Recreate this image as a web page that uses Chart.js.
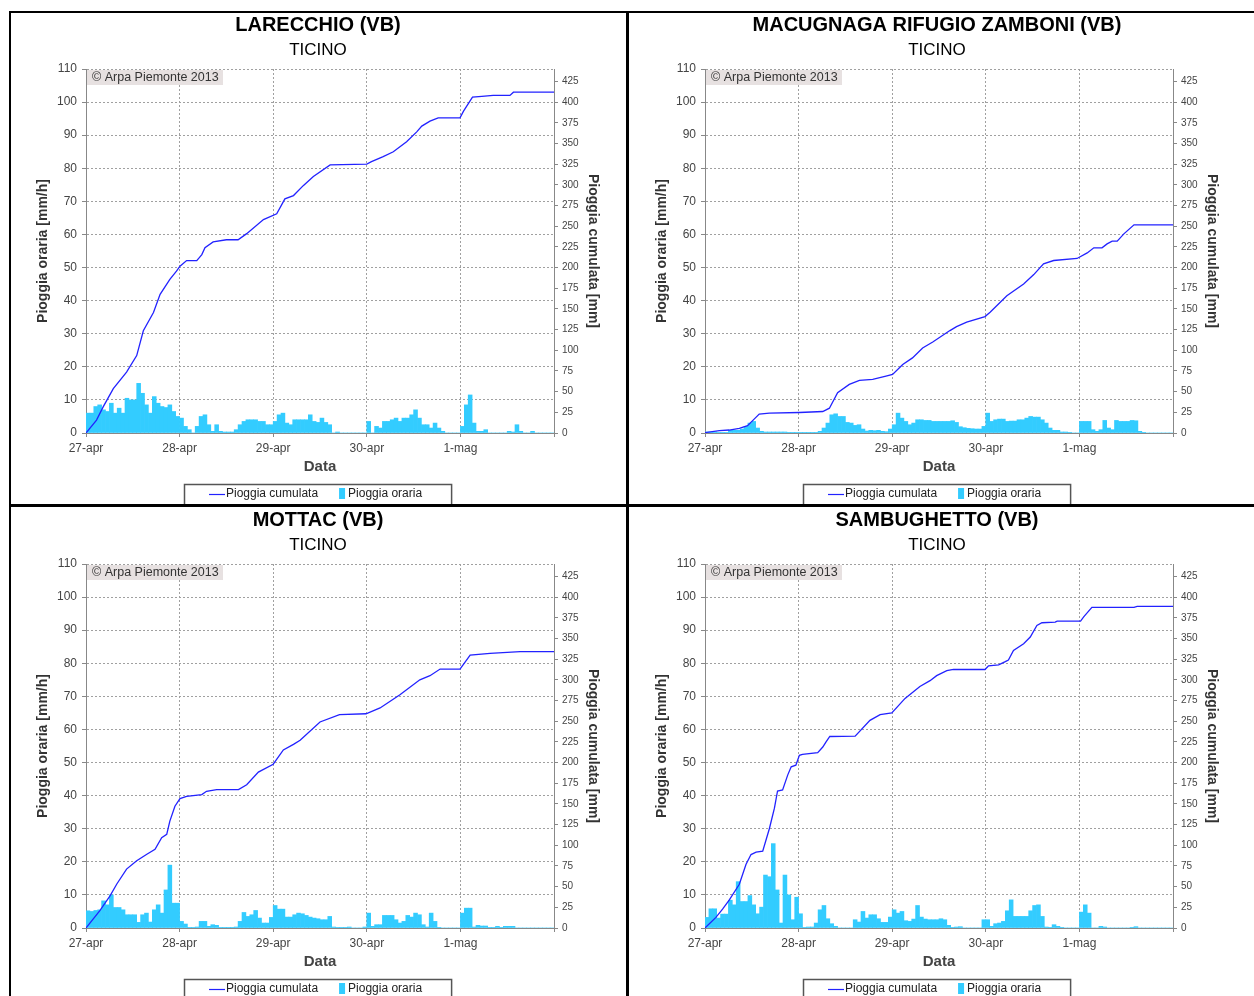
<!DOCTYPE html>
<html>
<head>
<meta charset="utf-8">
<title>Pioggia oraria e cumulata</title>
<script src="https://cdn.jsdelivr.net/npm/chart.js@4.4.0/dist/chart.umd.min.js"></script>
<style>
  html, body { margin: 0; padding: 0; background: #fff; }
  body { width: 1254px; height: 996px; position: relative; overflow: hidden; }
  .rule { position: absolute; background: #000; }
  canvas { position: absolute; }
</style>
</head>
<body>
<div class="rule" style="left:9px;top:11px;width:1245px;height:2px"></div>
<div class="rule" style="left:9px;top:504px;width:1245px;height:3px"></div>
<div class="rule" style="left:9px;top:11px;width:2px;height:985px"></div>
<div class="rule" style="left:626px;top:11px;width:3px;height:985px"></div>
<canvas id="c1" width="614" height="491" style="left:11px;top:13px;width:614px;height:491px"></canvas>
<canvas id="c2" width="614" height="491" style="left:630px;top:13px;width:614px;height:491px"></canvas>
<canvas id="c3" width="614" height="491" style="left:11px;top:508px;width:614px;height:491px"></canvas>
<canvas id="c4" width="614" height="491" style="left:630px;top:508px;width:614px;height:491px"></canvas>
<script>
// x axis: hours since 27-apr 00:00, one tick per day
const dayLabels = ['27-apr', '28-apr', '29-apr', '30-apr', '1-mag'];
const basin = 'TICINO';

// hourly rain [mm/h], 120 hours
const hourlyLarecchio = [
  6, 6, 8, 8.5, 7, 6.5, 9, 6, 7.5, 6,
  10.5, 10, 10, 15, 12, 8.5, 6, 11, 9, 8,
  7.7, 8.5, 6.5, 5, 4.5, 2, 1, 0, 2, 5,
  5.5, 2.5, 0.5, 2.5, 0.5, 0.3, 0.3, 0.3, 1, 2.5,
  3.5, 4, 4, 4, 3.5, 3.5, 2.5, 2.5, 3.5, 5.5,
  6, 3, 2.5, 4, 4, 4, 4, 5.5, 3.5, 3.2,
  4.5, 3.2, 2.5, 0, 0.3, 0, 0, 0, 0, 0,
  0, 0, 3.5, 0, 2, 1.5, 3.5, 3.5, 4, 4.5,
  3.5, 4.5, 4.5, 5.5, 7, 4.5, 2.5, 2.5, 1.5, 3,
  1.5, 0.5, 0, 0, 0, 0, 2, 8.5, 11.5, 3,
  0.5, 0.5, 1, 0, 0, 0, 0, 0, 0.5, 0.3,
  2.5, 0.5, 0, 0, 0.5, 0, 0, 0, 0, 0
];
const hourlyMacugnaga = [
  0.3, 0.3, 0.3, 0.2, 0.1, 0.2, 0.8, 0.8, 0.8, 1.2,
  2, 3, 3.5, 1.5, 0.5, 0.3, 0.3, 0.3, 0.3, 0.3,
  0.3, 0.2, 0.2, 0.2, 0.2, 0.2, 0.2, 0.2, 0.2, 0.5,
  1.5, 3, 5.5, 5.8, 5, 5, 3.2, 3, 2.3, 2.5,
  1.2, 0.6, 0.8, 0.7, 0.8, 0.5, 0.4, 1.2, 2.5, 6,
  4.5, 3.5, 2.5, 3, 4, 4, 3.8, 3.8, 3.5, 3.5,
  3.5, 3.5, 3.5, 3.7, 3.2, 1.9, 1.6, 1.4, 1.3, 1.2,
  1.2, 2, 6, 3.5, 4, 4.2, 4.2, 3.5, 3.6, 3.6,
  4, 4, 4.5, 5, 4.8, 4.8, 4, 3, 1.5, 0.8,
  0.8, 0.3, 0.3, 0.1, 0, 0, 3.5, 3.5, 3.5, 1,
  0.5, 1, 3.8, 1.5, 1, 3.8, 3.5, 3.5, 3.5, 3.8,
  3.7, 0.5, 0.2, 0, 0, 0, 0, 0, 0, 0
];
const hourlyMottac = [
  5.2, 5, 5.3, 5.5, 8.2, 7, 10, 6.2, 6.2, 5.5,
  4, 4, 4, 1.7, 4, 4.5, 1.8, 5.5, 7, 4.5,
  11.5, 19, 7.5, 7.5, 2, 1.2, 0.2, 0.2, 0.3, 2,
  2, 0.5, 1, 0.8, 0.2, 0.2, 0.2, 0.2, 0.3, 2,
  4.7, 3.5, 4, 5.3, 3, 1.5, 1.5, 3.2, 6.8, 5.7,
  5.7, 3.3, 3.3, 4, 4.5, 4.3, 3.8, 3.3, 3, 2.8,
  2.5, 2.5, 3.5, 0.3, 0.2, 0.2, 0.2, 0.3, 0, 0,
  0, 0.3, 4.5, 0.5, 1, 1, 3.8, 3.8, 3.8, 2.5,
  1.5, 2, 3.8, 3.3, 4.5, 4, 1, 0.3, 4.5, 2,
  0.2, 0, 0, 0, 0, 0, 4.5, 6, 6, 0.3,
  0.8, 0.6, 0.6, 0.2, 0.2, 0.5, 0.2, 0.5, 0.5, 0.5,
  0, 0, 0, 0, 0, 0, 0, 0, 0, 0
];
const hourlySambughetto = [
  3.2, 5.8, 5.8, 3, 4.2, 4.2, 8.4, 7, 14, 8,
  8, 9.8, 7, 4.3, 6.3, 16, 15.5, 25.5, 11.5, 1.5,
  16, 10, 2.5, 9.3, 4.3, 0.2, 0.3, 0.3, 1.5, 5.5,
  6.8, 2.8, 1.3, 0.5, 0, 0, 0, 0, 2.5, 1.8,
  5, 3, 4, 4, 2.8, 1.7, 1.7, 3.3, 5.5, 4.5,
  5, 2.2, 2, 2.7, 6.8, 3.3, 2.7, 2.5, 2.5, 2.5,
  2.8, 2.5, 0.8, 0.2, 0.3, 0.4, 0, 0, 0, 0,
  0, 2.5, 2.5, 0.5, 1.3, 1.5, 2, 5.2, 8.5, 3.5,
  3.5, 3.5, 3.5, 5.2, 6.8, 7, 3.5, 0.3, 0.2, 1,
  0.5, 0.2, 0, 0, 0, 0, 4.8, 7, 4.5, 0,
  0, 0.5, 0.3, 0, 0, 0, 0, 0, 0, 0.2,
  0.4, 0, 0, 0, 0, 0, 0, 0, 0, 0
];

// cumulated rain [mm], read at the line's bends (hour, mm)
const cumHoursLarecchio = [0, 2.7, 4.4, 7, 10.4, 13, 14.7, 17.3, 19, 21.5, 23.2, 24.1, 25.8, 28.4, 29.7, 30.5, 32.6, 36, 39, 41.2, 45.5, 48.9, 51, 53.2, 55.7, 58.3, 62.6, 72, 73.2, 76.2, 78.8, 82.2, 84.8, 86.1, 88.2, 90.3, 95.9, 96.8, 99.1, 101.5, 104.4, 108.7, 109.6, 120];
const cumMmLarecchio = [0, 15.6, 31.6, 53.6, 73.6, 93.6, 123.6, 145.6, 167.6, 185.6, 195.6, 201.6, 208.4, 208.4, 215.6, 224, 231, 233.6, 233.6, 241, 258, 265, 283, 287, 299, 310, 324, 325, 328, 334, 340, 352, 364, 371, 377, 381, 381, 389, 406, 407, 408, 408, 412, 412];

const cumHoursMacugnaga = [0, 3.7, 6.2, 8.8, 10.9, 12.6, 13.9, 16.5, 24.2, 30.2, 31.9, 34, 37, 39.6, 43, 46.4, 48.1, 50.7, 53.2, 55.8, 58.4, 62.8, 64.5, 67.1, 71.8, 73.1, 77.4, 81.7, 84.3, 86.8, 89.4, 95.4, 98, 99.7, 101.8, 103.1, 104.4, 105.7, 107.4, 110, 120];
const cumMmMacugnaga = [0.5, 2.8, 3.6, 5.6, 8.8, 16.8, 22.8, 24, 24.8, 26, 30, 48.8, 58.8, 63.6, 64.8, 68.8, 70.8, 82.8, 90.8, 102.8, 110, 123.8, 128.6, 133.9, 140.7, 146, 166, 180, 191.5, 204.4, 208.5, 211, 217.7, 223.8, 223.8, 228.6, 231.9, 231.9, 240.7, 251.6, 251.6];

const cumHoursMottac = [0, 3.6, 6.2, 7.9, 10.4, 13, 15.6, 17.7, 19.4, 20.7, 21.5, 22.8, 24.1, 25.8, 29.7, 30.9, 33.5, 39.1, 41.2, 44.2, 48, 50.6, 53.2, 54.9, 60, 65, 71.8, 75.4, 80.5, 85.6, 88.2, 90.8, 95.9, 98.5, 103.6, 111.3, 120];
const cumMmMottac = [0, 21.2, 39.2, 53.2, 71.2, 81.2, 89.2, 95.2, 109.2, 113.2, 129.2, 147.2, 156.4, 159.2, 161.2, 165.2, 167.2, 167.2, 173.2, 188.4, 198, 215.2, 222, 227, 249, 258, 259, 266, 282, 300, 305, 313, 313, 330, 332, 334, 334];

const cumHoursSambughetto = [0, 2.8, 4.5, 6.2, 8.8, 10.5, 11.8, 13.1, 14.8, 16.5, 17.8, 18.6, 19.9, 21.2, 22.1, 23.3, 24.2, 25, 28.9, 30.2, 31, 32, 38.5, 42.3, 44.9, 47.9, 51.3, 55.1, 57.7, 59.4, 62, 63.7, 71.8, 72.7, 75.3, 77, 77.8, 79.1, 81.7, 83.4, 85.1, 86.4, 89.8, 90.3, 96.3, 97.1, 99.2, 110, 110.8, 120];
const cumMmSambughetto = [0, 12.8, 22.8, 33.6, 52.8, 76.8, 88.8, 91.6, 92.8, 120, 144.8, 165.6, 166.8, 184.8, 194.8, 196.8, 208.8, 210, 212, 218.8, 224.8, 231.5, 232, 251, 258, 260, 277.5, 292, 299, 305, 311, 312.5, 312.5, 317, 318, 322, 324, 335.5, 343.6, 351.7, 365.8, 369, 369.8, 371, 371, 376, 387.5, 387.5, 388.8, 388.8];

const FONT = '"Liberation Sans", Arial, sans-serif';
Chart.defaults.font.family = FONT;

// grey label in the top-left corner of the plot
const copyright = {
  id: 'copyright',
  afterDatasetsDraw(chart) {
    const { ctx, chartArea } = chart;
    ctx.save();
    ctx.fillStyle = '#e7e1e1';
    ctx.fillRect(chartArea.left + 1, chartArea.top + 1, 136, 15);
    ctx.fillStyle = '#333';
    ctx.font = '12.5px ' + FONT;
    ctx.textBaseline = 'middle';
    ctx.fillText('\u00A9 Arpa Piemonte 2013', chartArea.left + 6, chartArea.top + 9);
    ctx.restore();
  }
};

// framed legend under the x axis
const boxLegend = {
  id: 'boxLegend',
  afterDraw(chart) {
    const { ctx, width } = chart;
    const lineDs = chart.data.datasets[0];
    const barDs = chart.data.datasets[1];
    ctx.save();
    ctx.font = '12px ' + FONT;
    const w1 = ctx.measureText(lineDs.label).width;
    const w2 = ctx.measureText(barDs.label).width;
    const boxW = 25 + 16 + 1 + w1 + 21 + 6 + 3 + w2 + 29;
    const left = Math.round(width / 2 - boxW / 2);
    const top = 471;
    ctx.strokeStyle = '#555';
    ctx.lineWidth = 1.5;
    ctx.strokeRect(left + 0.5, top + 0.5, boxW, 40);
    let x = left + 25;
    const cy = 481;
    ctx.strokeStyle = lineDs.borderColor;
    ctx.lineWidth = 1.2;
    ctx.beginPath();
    ctx.moveTo(x, cy + 0.5);
    ctx.lineTo(x + 16, cy + 0.5);
    ctx.stroke();
    x += 17;
    ctx.fillStyle = '#222';
    ctx.textBaseline = 'middle';
    ctx.fillText(lineDs.label, x, cy);
    x += w1 + 21;
    ctx.fillStyle = barDs.backgroundColor;
    ctx.fillRect(x, cy - 6, 6, 11);
    x += 9;
    ctx.fillStyle = '#222';
    ctx.fillText(barDs.label, x, cy);
    ctx.restore();
  }
};

function drawStation(canvasId, station, hourly, cumHours, cumMm) {
  const bars = hourly.map((v, i) => ({ x: i + 0.5, y: v }));
  const cumulated = cumHours.map((h, i) => ({ x: h, y: cumMm[i] }));
  const gridCommon = { color: '#a0a0a0', lineWidth: 1, tickLength: 4, tickColor: '#888', tickBorderDash: [] };
  const borderCommon = { display: true, color: '#888', width: 1, dash: [2, 2] };
  return new Chart(document.getElementById(canvasId), {
    type: 'bar',
    data: {
      datasets: [
        {
          type: 'line',
          label: 'Pioggia cumulata',
          data: cumulated,
          yAxisID: 'y2',
          borderColor: '#2222ff',
          borderWidth: 1.3,
          pointRadius: 0,
          tension: 0,
          order: 0
        },
        {
          label: 'Pioggia oraria',
          data: bars,
          yAxisID: 'y',
          backgroundColor: '#33ccff',
          borderWidth: 0,
          barPercentage: 1,
          categoryPercentage: 1,
          order: 1
        }
      ]
    },
    options: {
      responsive: false,
      animation: false,
      layout: { padding: { left: 0, right: 0, top: 0, bottom: 21 } },
      plugins: {
        legend: { display: false },
        tooltip: { enabled: false },
        title: {
          display: true, text: station, color: '#000',
          font: { size: 20, weight: 'bold', lineHeight: 1 },
          padding: { top: 2, bottom: 0 }
        },
        subtitle: {
          display: true, text: basin, color: '#000',
          font: { size: 17, lineHeight: 1 },
          padding: { top: 6.5, bottom: 10.5 }
        }
      },
      scales: {
        x: {
          type: 'linear', min: 0, max: 120, offset: false,
          ticks: {
            stepSize: 24, autoSkip: false, maxRotation: 0, padding: 4,
            color: '#444', font: { size: 12 },
            callback: v => dayLabels[v / 24] ?? ''
          },
          grid: Object.assign({ offset: false }, gridCommon),
          border: borderCommon,
          title: {
            display: true, text: 'Data', color: '#444',
            font: { size: 15, weight: 'bold', lineHeight: 1.2 },
            padding: { top: 0, bottom: 7 }
          },
          afterFit: s => { s.height = 50; }
        },
        y: {
          position: 'left', min: 0, max: 110,
          ticks: { stepSize: 10, padding: 5, color: '#444', font: { size: 12 } },
          grid: gridCommon,
          border: borderCommon,
          title: {
            display: true, text: 'Pioggia oraria [mm/h]', color: '#333',
            font: { size: 14, weight: 'bold', lineHeight: 1.2 },
            padding: { top: 23.6, bottom: 0 }
          },
          afterFit: s => { s.width = 75; }
        },
        y2: {
          position: 'right', min: 0, max: 440,
          ticks: { stepSize: 25, includeBounds: false, autoSkip: false, padding: 4, color: '#444', font: { size: 10 } },
          grid: Object.assign({}, gridCommon, { drawOnChartArea: false }),
          border: borderCommon,
          title: {
            display: true, text: 'Pioggia cumulata [mm]', color: '#333',
            font: { size: 14, weight: 'bold', lineHeight: 1.2 },
            padding: { top: 23.6, bottom: 0 }
          },
          afterFit: s => { s.width = 71; }
        }
      }
    },
    plugins: [copyright, boxLegend]
  });
}

drawStation('c1', 'LARECCHIO (VB)', hourlyLarecchio, cumHoursLarecchio, cumMmLarecchio);
drawStation('c2', 'MACUGNAGA RIFUGIO ZAMBONI (VB)', hourlyMacugnaga, cumHoursMacugnaga, cumMmMacugnaga);
drawStation('c3', 'MOTTAC (VB)', hourlyMottac, cumHoursMottac, cumMmMottac);
drawStation('c4', 'SAMBUGHETTO (VB)', hourlySambughetto, cumHoursSambughetto, cumMmSambughetto);
</script>
</body>
</html>
